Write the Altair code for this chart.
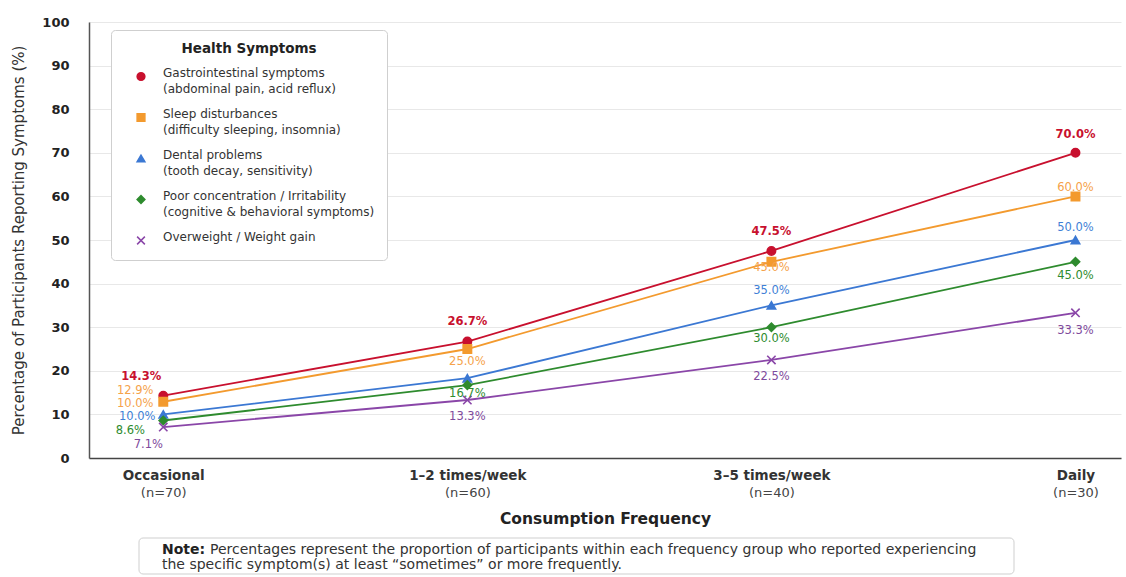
import altair as alt
import pandas as pd

# ---------------- data ----------------
frequencies = ["Occasional", "1–2 times/week", "3–5 times/week", "Daily"]
sample_sizes = ["(n=70)", "(n=60)", "(n=40)", "(n=30)"]

series_names = [
    "Gastrointestinal symptoms|(abdominal pain, acid reflux)",
    "Sleep disturbances|(difficulty sleeping, insomnia)",
    "Dental problems|(tooth decay, sensitivity)",
    "Poor concentration / Irritability|(cognitive & behavioral symptoms)",
    "Overweight / Weight gain",
]

gastro = [14.3, 26.7, 47.5, 70.0]
sleep = [12.9, 25.0, 45.0, 60.0]
dental = [10.0, 18.3, 35.0, 50.0]
concentration = [8.6, 16.7, 30.0, 45.0]
weight = [7.1, 13.3, 22.5, 33.3]

gastro_labels = ["14.3%", "26.7%", "47.5%", "70.0%"]
sleep_labels = ["12.9%", "25.0%", "45.0%", "60.0%"]
dental_labels = ["10.0%", None, "35.0%", "50.0%"]
concentration_labels = ["8.6%", "16.7%", "30.0%", "45.0%"]
weight_labels = ["7.1%", "13.3%", "22.5%", "33.3%"]

# extra label drawn in the reference next to the Sleep series at "Occasional"
extra_label_series = 1
extra_label_freq = 0
extra_label_text = "10.0%"

note_bold = "Note:"
note_line1 = "Percentages represent the proportion of participants within each frequency group who reported experiencing"
note_line2 = "the specific symptom(s) at least \u201csometimes\u201d or more frequently."

# ---------------- styling ----------------
FONT = "DejaVu Sans"
colors = ["#c8102e", "#f39a2e", "#3b78d3", "#2e8b2e", "#8a46a8"]
label_colors = ["#c8102e", "#f5a24a", "#3f7fd6", "#2e8b2e", "#7e4a9c"]
shapes = ["circle", "square", "triangle-up", "diamond", "M-1,-1L1,1M-1,1L1,-1"]

# label offsets (dx, dy) per series per point
label_offsets = [
    [(-22, -19), (0, -20), (0, -19), (0, -18)],
    [(-28, -11), (0, 13), (0, 6), (0, -8)],
    [(-26, 3), (0, 0), (0, -14), (0, -12)],
    [(-33, 10), (0, 9), (0, 12), (0, 14)],
    [(-15, 18), (0, 17), (0, 17), (0, 18)],
]
extra_offset = (-28, 2)

W, H = 1032, 436

values = [gastro, sleep, dental, concentration, weight]
labels = [gastro_labels, sleep_labels, dental_labels, concentration_labels, weight_labels]

rows = []
for s, name in enumerate(series_names):
    for i, f in enumerate(frequencies):
        rows.append({"series": name, "freq": f, "value": values[s][i], "label": labels[s][i]})
df = pd.DataFrame(rows)

n_map = "{" + ",".join(f"'{f}':'{n}'" for f, n in zip(frequencies, sample_sizes)) + "}"

x_scale = alt.Scale(domain=frequencies, padding=0.197, align=0.62)
y_scale = alt.Scale(domain=[0, 100], nice=False)

y_enc = alt.Y(
    "value:Q",
    scale=y_scale,
    axis=alt.Axis(
        values=list(range(0, 101, 10)),
        title="Percentage of Participants Reporting Symptoms (%)",
        titleFontSize=15,
        titleFontWeight="normal",
        titleColor="#333333",
        titlePadding=15,
        labelFontSize=13,
        labelFontWeight="bold",
        labelColor="#222222",
        labelPadding=20,
        ticks=False,
        domainColor="#555555",
        domainWidth=1.5,
        grid=True,
        gridColor="#e8e8e8",
        gridWidth=1,
    ),
)

legend = alt.Legend(
    title="Health Symptoms",
    orient="none",
    legendX=22,
    legendY=8,
    fillColor="white",
    strokeColor="#cfcfcf",
    cornerRadius=4,
    padding=12,
    titleFontSize=13.5,
    titleFontWeight="bold",
    titleColor="#222222",
    titleAnchor="middle",
    titlePadding=15,
    labelFontSize=12,
    labelColor="#333333",
    labelExpr="split(datum.label, '|')",
    labelLimit=400,
    labelOffset=16,
    labelBaseline="alphabetic",
    rowPadding=13,
    symbolSize=60,
    symbolOffset=12,
    symbolStrokeWidth=1.5,
)

color_scale = alt.Scale(domain=series_names, range=colors)
shape_scale = alt.Scale(domain=series_names, range=shapes)

base = alt.Chart(df)

lines = base.mark_line(strokeWidth=1.8).encode(
    x=alt.X(
        "freq:N",
        scale=x_scale,
        sort=frequencies,
        axis=alt.Axis(
            title=None,
            labelAngle=0,
            labelFontSize=13.5,
            labelFontWeight="bold",
            labelColor="#333333",
            labelPadding=10,
            ticks=False,
            domainColor="#444444",
            domainWidth=1.5,
            grid=False,
            orient="bottom",
        ),
    ),
    y=y_enc,
    color=alt.Color("series:N", scale=color_scale, legend=legend, sort=series_names),
)

points = base.mark_point(filled=True, size=70, opacity=1, strokeWidth=1.6).encode(
    x=alt.X(
        "freq:N",
        scale=x_scale,
        sort=frequencies,
        axis=alt.Axis(
            title="Consumption Frequency",
            titleFontSize=15.5,
            titleFontWeight="bold",
            titleColor="#222222",
            titlePadding=12,
            labelAngle=0,
            labelFontSize=13,
            labelFontWeight="normal",
            labelColor="#444444",
            labelPadding=28,
            labelExpr=f"{n_map}[datum.value]",
            ticks=False,
            domain=False,
            grid=False,
            orient="bottom",
        ),
    ),
    y=y_enc,
    color=alt.Color("series:N", scale=color_scale, legend=legend, sort=series_names),
    stroke=alt.Stroke("series:N", scale=color_scale, legend=legend, sort=series_names),
    shape=alt.Shape("series:N", scale=shape_scale, legend=legend, sort=series_names),
)

layers = [lines, points]

x_none = alt.X("freq:N", scale=x_scale, sort=frequencies, axis=None)

for s, name in enumerate(series_names):
    for i, f in enumerate(frequencies):
        txt = labels[s][i]
        if txt is None:
            continue
        dx, dy = label_offsets[s][i]
        sub = df[(df.series == name) & (df.freq == f)]
        layers.append(
            alt.Chart(sub)
            .mark_text(
                dx=dx, dy=dy, fontSize=11.5,
                fontWeight="bold" if s == 0 else "normal",
                color=label_colors[s], align="center", baseline="middle",
            )
            .encode(x=x_none, y=y_enc, text="label:N")
        )

# extra label
sub = df[(df.series == series_names[extra_label_series]) & (df.freq == frequencies[extra_label_freq])].copy()
sub["label"] = extra_label_text
layers.append(
    alt.Chart(sub)
    .mark_text(dx=extra_offset[0], dy=extra_offset[1], fontSize=11.5,
               color=label_colors[extra_label_series], align="center", baseline="middle")
    .encode(x=x_none, y=y_enc, text="label:N")
)

# note box
note_df = pd.DataFrame({"bold": [note_bold], "l1": [note_line1], "l2": [note_line2]})
note_box = alt.Chart(note_df).mark_rect(
    fill="white", stroke="#cfcfcf", strokeWidth=1, cornerRadius=4
).encode(x=alt.value(50), x2=alt.value(925), y=alt.value(516), y2=alt.value(552))
note_b = alt.Chart(note_df).mark_text(
    align="left", baseline="middle", fontSize=14, fontWeight="bold", color="#222222"
).encode(x=alt.value(73), y=alt.value(528), text="bold:N")
note_t1 = alt.Chart(note_df).mark_text(
    align="left", baseline="middle", fontSize=14, color="#333333"
).encode(x=alt.value(121), y=alt.value(528), text="l1:N")
note_t2 = alt.Chart(note_df).mark_text(
    align="left", baseline="middle", fontSize=14, color="#333333"
).encode(x=alt.value(73), y=alt.value(543), text="l2:N")

layers += [note_box, note_b, note_t1, note_t2]

chart = (
    alt.layer(*layers)
    .resolve_axis(x="independent")
    .properties(width=W, height=H, padding={"left": 11, "top": 16, "right": 2, "bottom": 0})
    .configure(font=FONT, background="white", style={"guide-label": {"lineHeight": 16}})
    .configure_view(stroke=None)
)

chart.save("out.html", embed_options={"renderer": "svg", "actions": False})
